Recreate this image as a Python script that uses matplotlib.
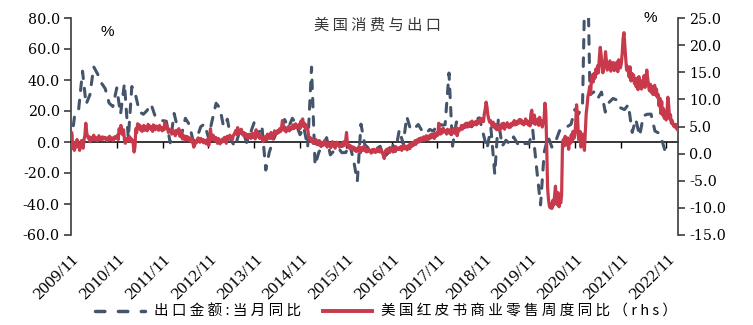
import matplotlib
matplotlib.use("Agg")
import matplotlib.pyplot as plt
import matplotlib.dates as mdates
from matplotlib.lines import Line2D
import pandas as pd

# ---------------- data ----------------
# China exports (USD), YoY of the month, %, monthly from 2009/11
export_yoy = [
    -1.2, 17.7,
    21.0, 45.7, 24.3, 30.5, 48.5, 43.9, 38.1, 34.4, 25.1, 22.9, 34.9, 17.9,
    37.7, 2.4, 35.8, 29.9, 19.4, 17.9, 20.4, 24.5, 17.1, 15.9, 13.8, 13.4,
    -0.5, 18.4, 8.9, 4.9, 15.3, 11.3, 1.0, 2.7, 9.9, 11.6, 2.9, 14.1,
    25.0, 21.8, 10.0, 14.7, 1.0, -3.1, 5.1, 7.2, -0.3, 5.6, 12.7, 4.3,
    10.6, -18.1, -6.6, 0.9, 7.0, 7.2, 14.5, 9.4, 15.3, 11.6, 4.7, 9.7,
    -3.3, 48.3, -15.0, -6.4, -2.5, 2.8, -8.3, -5.5, -3.7, -6.9, -6.8, -1.4,
    -11.2, -25.4, 11.5, -1.8, -4.1, -4.8, -4.4, -2.8, -10.0, -7.3, 0.1, -6.1,
    7.9, -1.3, 16.4, 8.0, 8.7, 11.3, 7.2, 5.5, 8.1, 6.9, 12.3, 10.9,
    11.1, 44.5, -2.7, 12.9, 12.6, 11.3, 12.2, 9.8, 14.5, 15.6, 5.4, -4.4,
    9.1, -20.7, 14.2, -2.7, 1.1, -1.3, 3.3, -1.0, -3.2, -0.9, -1.1, 7.6,
    -17.2, -40.6, -6.6, 3.5, -3.3, 0.5, 7.2, 9.5, 9.9, 11.4, 21.1, 18.1,
    24.9, 154.9, 30.6, 32.3, 27.9, 32.2, 19.3, 25.6, 28.1, 27.1, 22.0, 20.9,
    24.1, 6.2, 14.7, 3.9, 16.9, 17.9, 18.0, 7.1, 5.7, -0.3, -8.7,
]
export_start = "2009-11-01"

# US Redbook same-store retail sales, weekly YoY, % (weeks ending Saturday)
redbook_2009 = [3.8, 1.0, 2.1, 0.6, 1.9, 1.2, 2.6, 1.4]
redbook_2010 = [1.5, 0.6, 1.8, 2.4, 2.2, 1.0, 2.6, 3.4, 5.6, 3.9, 3.2, 2.8,
                3.1, 2.2, 3.0, 2.6, 2.8, 3.4, 2.5, 3.0, 2.7, 2.4, 2.9, 3.3,
                2.6, 2.8, 2.5, 3.1, 2.7, 2.9, 3.0, 2.6, 2.4, 2.9, 2.5, 3.2,
                2.8, 2.6, 2.9, 2.4, 2.7, 3.1, 3.0, 2.8, 3.4, 2.6, 4.6, 3.8,
                5.2, 4.1, 3.5, 4.4]
redbook_2011 = [2.6, 1.9, 2.8, 2.3, 2.9, 2.4, 3.1, 2.2, 2.7, 2.5, 1.8, 0.3,
                1.2, 4.6, 3.9, 5.5, 4.8, 5.3, 4.4, 5.0, 4.1, 4.6, 5.2, 4.3,
                5.0, 4.8, 4.2, 5.4, 4.7, 5.1, 4.5, 4.9, 4.1, 5.3, 4.8, 4.4,
                5.1, 4.6, 4.9, 4.3, 5.2, 4.5, 4.8, 4.2, 4.7, 4.4, 5.8, 4.6,
                5.2, 4.9, 3.9, 4.5, 4.1]
redbook_2012 = [4.1, 3.6, 4.4, 3.8, 4.0, 3.3, 4.3, 3.7, 3.9, 4.6, 3.2, 3.5,
                4.0, 2.7, 3.4, 3.0, 2.5, 3.2, 2.6, 3.1, 2.8, 2.4, 2.9, 2.2,
                2.7, 2.0, 1.2, 1.6, 2.3, 2.0, 2.6, 2.9, 2.4, 2.1, 2.8, 2.3,
                2.6, 2.0, 2.5, 2.2, 1.8, 2.4, 2.7, 1.5, 2.3, 4.6, 3.1, 2.6,
                3.4, 2.9, 2.4, 3.0]
redbook_2013 = [2.4, 1.9, 2.8, 2.2, 1.8, 2.5, 2.1, 2.7, 2.3, 3.0, 2.4, 1.9,
                3.2, 2.6, 2.9, 3.4, 2.8, 3.1, 2.6, 3.3, 3.6, 3.9, 4.3, 3.5,
                4.8, 3.6, 4.2, 3.8, 4.5, 4.0, 3.4, 3.9, 3.2, 3.7, 3.3, 2.9,
                3.5, 3.1, 3.6, 2.8, 3.2, 3.8, 3.0, 3.5, 2.7, 4.4, 3.3, 3.1,
                3.7, 2.8, 3.4, 3.0]
redbook_2014 = [2.8, 2.2, 3.0, 2.6, 3.2, 2.5, 3.6, 2.9, 3.4, 2.8, 3.9, 3.3,
                2.7, 3.5, 4.2, 3.6, 4.0, 3.7, 4.3, 3.9, 4.6, 4.1, 4.8, 6.1,
                4.5, 4.3, 4.9, 4.0, 4.6, 4.4, 5.0, 4.2, 4.7, 4.5, 4.9, 5.3,
                4.6, 5.1, 5.5, 4.8, 5.2, 4.9, 5.4, 4.6, 6.0, 5.2, 6.4, 5.0,
                5.6, 4.7, 5.3, 4.9]
redbook_2015 = [4.2, 3.1, 2.6, 2.9, 2.2, 2.7, 1.9, 2.4, 2.0, 2.6, 1.7, 2.3,
                1.6, 2.4, 1.9, 1.3, 2.1, 1.5, 1.8, 2.4, 1.6, 1.9, 1.2, 2.0,
                1.5, 1.8, 1.1, 1.7, 2.2, 1.4, 1.9, 1.0, 1.6, 2.1, 1.5, 1.8,
                1.2, 1.7, 1.3, 1.9, 1.4, 2.2, 1.6, 2.4, 3.9, 1.8, 1.1, 1.6,
                0.9, 1.4, 0.8, 1.2]
redbook_2016 = [1.2, 0.6, 1.0, 0.4, 0.9, 0.5, 1.3, 0.7, 0.2, 1.1, 0.6, 0.9,
                1.4, 0.5, 0.8, 0.3, 0.7, 0.9, 0.4, 0.6, 0.1, 0.7, 0.3, 0.8,
                0.5, 0.2, 0.6, 0.9, 0.4, 0.7, 0.3, 0.8, 0.5, 0.1, -0.4, -0.9,
                0.2, 0.7, 0.4, 0.9, 0.5, 0.2, 0.8, 1.1, 0.6, 0.3, 0.9, 0.5,
                1.3, 0.7, 1.0, 0.8, 1.1]
redbook_2017 = [0.8, 1.3, 0.6, 1.1, 1.5, 0.9, 1.4, 1.0, 0.7, 1.2, 1.6, 0.9,
                1.8, 1.3, 2.0, 1.5, 1.9, 2.4, 1.7, 2.2, 2.6, 2.1, 2.8, 2.3,
                2.9, 2.4, 2.7, 3.1, 2.5, 2.8, 3.3, 2.6, 3.0, 2.7, 3.4, 2.9,
                3.6, 3.1, 3.5, 2.8, 3.7, 3.2, 3.9, 3.4, 5.6, 4.1, 3.6, 4.4,
                3.8, 4.7, 4.2, 4.0]
redbook_2018 = [4.2, 3.6, 4.5, 4.0, 3.8, 4.4, 3.5, 4.1, 3.9, 4.6, 4.2, 3.7,
                4.8, 3.3, 4.0, 4.6, 4.3, 4.7, 5.2, 4.5, 4.9, 5.3, 4.8, 5.6,
                5.1, 4.9, 5.5, 5.0, 5.8, 5.4, 6.0, 5.2, 5.7, 5.5, 5.9, 5.3,
                6.1, 5.6, 6.2, 5.8, 6.5, 6.0, 6.3, 5.9, 7.4, 8.2, 9.5, 8.6,
                7.1, 6.4, 5.8, 6.1]
redbook_2019 = [5.6, 5.0, 5.8, 5.2, 4.7, 5.4, 4.4, 5.1, 4.8, 4.3, 5.2, 4.6,
                5.5, 4.9, 5.6, 4.5, 5.3, 5.0, 5.7, 5.1, 4.8, 5.4, 4.9, 5.6,
                5.2, 5.5, 6.1, 5.3, 5.8, 5.4, 6.0, 5.6, 6.3, 5.7, 6.2, 5.5,
                5.9, 5.3, 5.8, 6.4, 5.6, 6.0, 5.3, 5.9, 5.1, 7.3, 8.0, 6.2,
                5.6, 7.1, 5.4, 6.0]
redbook_2020 = [5.8, 6.4, 5.2, 6.7, 5.5, 6.1, 4.9, 5.7, 6.3, 9.3, 7.8, 1.5,
                -6.2, -8.4, -9.6, -10.0, -9.2, -10.1, -8.6, -9.5, -7.8, -6.0,
                -8.8, -9.4, -7.2, -9.8, -8.5, -9.1, -7.6, 1.8, 2.6, 1.4,
                3.2, 2.1, 1.6, 2.9, 0.8, 2.4, 1.9, 3.5, 2.2, 4.1, 2.8, 3.3,
                5.6, 9.0, 7.4, 3.6, 2.4, 4.1, 1.2, 2.0]
redbook_2021 = [3.6, 2.1, 0.6, 4.2, 7.4, 8.8, 10.6, 11.3, 12.4, 10.9, 13.8,
                14.5, 13.2, 14.8, 13.9, 15.6, 14.7, 16.2, 14.9, 17.8, 19.6,
                18.2, 16.3, 14.9, 15.8, 16.6, 18.8, 17.2, 15.4, 16.1, 15.7,
                17.1, 15.2, 16.4, 15.9, 16.8, 15.3, 16.2, 15.6, 16.9, 15.1,
                17.3, 16.0, 15.8, 16.6, 18.4, 21.2, 22.3, 19.8, 17.6, 15.4,
                16.1]
redbook_2022 = [15.2, 14.1, 16.0, 13.4, 14.8, 13.6, 14.5, 12.9, 13.8, 12.3,
                13.9, 11.8, 14.2, 12.6, 13.5, 11.9, 12.8, 13.1, 14.4, 12.2,
                13.6, 15.4, 14.0, 12.5, 11.6, 12.8, 11.3, 12.4, 10.9, 11.8,
                12.6, 10.8, 11.9, 10.4, 10.9, 8.8, 10.2, 7.4, 9.6, 7.1, 8.3,
                6.5, 7.8, 6.2, 7.5, 10.4, 8.9, 6.4, 7.2, 5.6, 6.1, 5.3, 5.0]
redbook_2023 = [4.9, 5.4, 4.6, 4.4]

redbook_years = [
    ("2009-11-01", redbook_2009), ("2010-01-01", redbook_2010),
    ("2011-01-01", redbook_2011), ("2012-01-01", redbook_2012),
    ("2013-01-01", redbook_2013), ("2014-01-01", redbook_2014),
    ("2015-01-01", redbook_2015), ("2016-01-01", redbook_2016),
    ("2017-01-01", redbook_2017), ("2018-01-01", redbook_2018),
    ("2019-01-01", redbook_2019), ("2020-01-01", redbook_2020),
    ("2021-01-01", redbook_2021), ("2022-01-01", redbook_2022),
    ("2023-01-01", redbook_2023),
]

tick_years = list(range(2009, 2023))
tick_labels = [f"{y}/11" for y in tick_years]

title = "美 国 消 费 与 出 口"
label_export = "出 口 金 额 : 当 月 同 比"
label_redbook = "美 国 红 皮 书 商 业 零 售 周 度 同 比 （ r h s ）"

# ---------------- styling ----------------
BLUE = "#44546A"
RED = "#C8394C"
SPINE = "#3C3C3C"
NUM_FONT = "DejaVu Serif"
DATE_FONT = "Liberation Serif"
CJK = ["Noto Sans CJK SC", "DejaVu Sans"]

plt.rcParams["font.family"] = CJK

fig = plt.figure(figsize=(7.53, 3.25), dpi=100)
W, H = 753, 325
ax = fig.add_axes([71 / W, 1 - 235 / H, (678 - 71) / W, (235 - 18) / H])
ax2 = ax.twinx()

# exports (left axis)
ex_dates = pd.date_range(export_start, periods=len(export_yoy), freq="MS")
ex_x = mdates.date2num(ex_dates.to_pydatetime())
ax.plot(ex_x, export_yoy, color=BLUE, lw=2.2, dashes=(2.8, 3.2),
        dash_capstyle="round", zorder=3)

# redbook (right axis)
red_x, red_y = [], []
for first_day, vals in redbook_years:
    d = pd.date_range(first_day, periods=len(vals), freq="W-SAT")
    red_x.extend(mdates.date2num(d.to_pydatetime()))
    red_y.extend(vals)
ax2.plot(red_x, red_y, color=RED, lw=2.3, solid_joinstyle="round", zorder=3)

# axes limits
x0 = mdates.date2num(pd.Timestamp("2009-11-01").to_pydatetime())
x1 = mdates.date2num(pd.Timestamp("2023-02-01").to_pydatetime())
ax.set_xlim(x0, x1)
ax.set_ylim(-60, 80)
ax2.set_ylim(-15, 25)

ax.set_yticks(range(-60, 81, 20))
ax.set_yticklabels([f"{v:.1f}" for v in range(-60, 81, 20)],
                   fontfamily=NUM_FONT, fontsize=10.3)
ax2.set_yticks(range(-15, 26, 5))
ax2.set_yticklabels([f"{v:.1f}" for v in range(-15, 26, 5)],
                    fontfamily=NUM_FONT, fontsize=10.3)

for a in (ax, ax2):
    a.spines["top"].set_visible(False)
ax.spines["right"].set_visible(False)
ax2.spines["left"].set_visible(False)
ax2.spines["bottom"].set_visible(False)
ax.spines["left"].set_color(SPINE)
ax.spines["left"].set_linewidth(1.2)
ax2.spines["right"].set_color(SPINE)
ax2.spines["right"].set_linewidth(1.2)

ax.tick_params(axis="y", direction="out", length=5, width=1.2, color=SPINE,
               pad=3, labelcolor="black")
ax2.tick_params(axis="y", direction="out", length=5, width=1.2, color=SPINE,
                pad=3, labelcolor="black")

# category axis line through zero with ticks, labels at the bottom
tick_pos = mdates.date2num([pd.Timestamp(f"{y}-11-01").to_pydatetime()
                            for y in tick_years])
ax.spines["bottom"].set_position(("data", 0))
ax.spines["bottom"].set_color("black")
ax.spines["bottom"].set_linewidth(1.1)
ax.set_xticks(tick_pos)
ax.tick_params(axis="x", direction="out", length=4, width=1.0, color="black",
               labelbottom=False)

lab = ax.secondary_xaxis("bottom")
lab.set_xticks(tick_pos, labels=tick_labels)
lab.spines["bottom"].set_visible(False)
lab.tick_params(axis="x", length=0, pad=12)
for t in lab.get_xticklabels():
    t.set_fontfamily(DATE_FONT)
    t.set_fontsize(12.5)
    t.set_rotation(45)
    t.set_ha("right")
    t.set_va("top")
    t.set_rotation_mode("anchor")

# title and unit marks
fig.text(377 / W, 1 - 25 / H, title, ha="center", va="center",
         fontsize=11, color="#383838", family=CJK, fontweight="medium")
fig.text(107 / W, 1 - 32 / H, "%", ha="center", va="center",
         fontsize=11, family="Liberation Sans", color="black")
fig.text(650 / W, 1 - 18 / H, "%", ha="center", va="center",
         fontsize=11, family="Liberation Sans", color="black")

# legend
handles = [
    Line2D([], [], color=BLUE, lw=2.5, dashes=(2.7, 3.9),
           dash_capstyle="round"),
    Line2D([], [], color=RED, lw=2.8),
]
fig.legend(handles, [label_export, label_redbook], loc="center",
           bbox_to_anchor=(386 / W, 1 - 312 / H), ncol=2, frameon=False,
           handlelength=3.4, handletextpad=0.6,
           columnspacing=1.5, borderpad=0, prop={"family": CJK, "size": 10.5})

fig.savefig("out.png", dpi=100)
